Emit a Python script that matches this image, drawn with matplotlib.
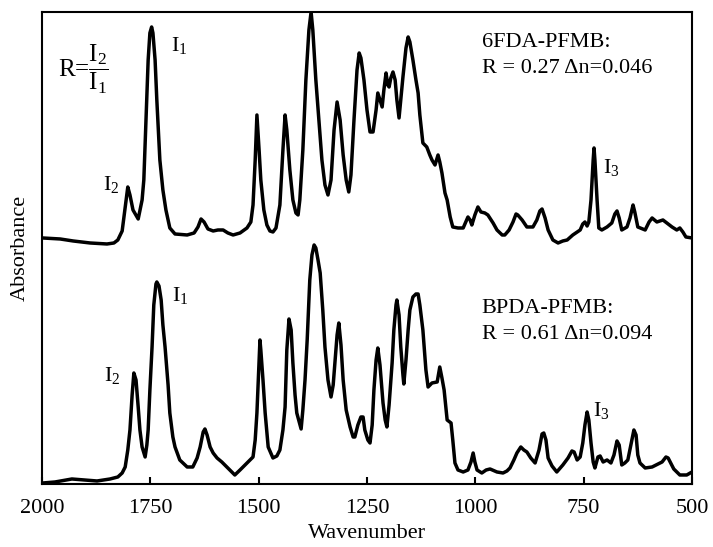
import numpy as np
import matplotlib
matplotlib.use("Agg")
import matplotlib.pyplot as plt

plt.rcParams['font.family'] = ['Liberation Serif', 'DejaVu Serif']
plt.rcParams['mathtext.fontset'] = 'custom'
plt.rcParams['mathtext.rm'] = 'Liberation Serif'
plt.rcParams['mathtext.it'] = 'Liberation Serif:italic'

# FTIR spectra, wavenumber (cm-1) vs absorbance (arb. units)
wn_6fda = [1998, 1958, 1928, 1889, 1850, 1834, 1825, 1815, 1808, 1802, 1797, 1790, 1778, 1769, 1765,
           1760, 1755, 1751, 1747, 1744, 1739, 1735, 1728, 1721, 1714, 1705, 1693, 1665, 1649, 1640,
           1633, 1626, 1617, 1605, 1594, 1582, 1571, 1559, 1543, 1527, 1518, 1513, 1508, 1504, 1499,
           1495, 1488, 1481, 1474, 1467, 1460, 1451, 1444, 1439, 1435, 1428, 1421, 1414, 1409, 1405,
           1398, 1391, 1384, 1379, 1375, 1368, 1361, 1354, 1347, 1340, 1333, 1326, 1319, 1312, 1305,
           1298, 1292, 1287, 1280, 1273, 1268, 1264, 1257, 1250, 1243, 1236, 1229, 1225, 1220, 1215,
           1211, 1206, 1202, 1199, 1195, 1190, 1185, 1181, 1176, 1172, 1167, 1160, 1155, 1151, 1144,
           1137, 1132, 1128, 1121, 1112, 1105, 1100, 1093, 1086, 1082, 1077, 1070, 1065, 1058, 1052,
           1040, 1028, 1022, 1017, 1012, 1008, 1001, 994, 987, 978, 971, 959, 950, 938, 932,
           922, 913, 906, 902, 892, 881, 867, 858, 851, 846, 839, 832, 821, 809, 798,
           788, 775, 758, 752, 747, 742, 738, 733, 728, 726, 724, 719, 715, 708, 696,
           685, 678, 673, 668, 662, 650, 643, 636, 632, 625, 608, 599, 592, 581, 567,
           555, 546, 535, 528, 521, 514, 500]
abs_6fda = [0.030, 0.025, 0.015, 0.005, 0.000, 0.005, 0.020, 0.065, 0.185, 0.285, 0.245, 0.170, 0.125, 0.220, 0.320,
            0.620, 0.920, 1.055, 1.085, 1.055, 0.920, 0.720, 0.420, 0.270, 0.170, 0.080, 0.050, 0.045, 0.055, 0.085,
            0.125, 0.110, 0.075, 0.065, 0.070, 0.070, 0.055, 0.045, 0.055, 0.080, 0.110, 0.195, 0.420, 0.645, 0.470,
            0.320, 0.170, 0.095, 0.065, 0.060, 0.080, 0.195, 0.470, 0.645, 0.570, 0.370, 0.220, 0.155, 0.145, 0.220,
            0.470, 0.820, 1.070, 1.160, 1.070, 0.820, 0.620, 0.420, 0.295, 0.245, 0.320, 0.570, 0.710, 0.620, 0.445,
            0.320, 0.260, 0.345, 0.620, 0.870, 0.955, 0.930, 0.820, 0.670, 0.560, 0.560, 0.670, 0.755, 0.720, 0.685,
            0.770, 0.855, 0.795, 0.785, 0.830, 0.860, 0.820, 0.720, 0.630, 0.720, 0.835, 0.980, 1.035, 1.010, 0.920,
            0.820, 0.755, 0.645, 0.505, 0.485, 0.445, 0.420, 0.395, 0.445, 0.410, 0.355, 0.255, 0.220, 0.135, 0.085,
            0.080, 0.080, 0.110, 0.135, 0.120, 0.095, 0.145, 0.185, 0.160, 0.155, 0.145, 0.105, 0.070, 0.045, 0.045,
            0.070, 0.110, 0.150, 0.145, 0.120, 0.085, 0.085, 0.120, 0.165, 0.175, 0.130, 0.070, 0.020, 0.005, 0.015,
            0.020, 0.045, 0.070, 0.100, 0.110, 0.090, 0.110, 0.220, 0.420, 0.480, 0.420, 0.220, 0.080, 0.070, 0.085,
            0.105, 0.150, 0.165, 0.130, 0.070, 0.085, 0.130, 0.195, 0.160, 0.085, 0.070, 0.110, 0.130, 0.110, 0.120,
            0.100, 0.085, 0.070, 0.080, 0.060, 0.035, 0.030]

wn_bpda = [1998, 1970, 1931, 1901, 1873, 1843, 1825, 1815, 1808, 1802, 1797, 1792, 1788, 1783, 1778,
           1774, 1769, 1762, 1758, 1755, 1751, 1746, 1742, 1737, 1735, 1730, 1725, 1721, 1716, 1709,
           1705, 1698, 1693, 1682, 1665, 1652, 1642, 1635, 1628, 1624, 1619, 1612, 1605, 1596, 1585,
           1571, 1555, 1543, 1527, 1513, 1508, 1504, 1499, 1497, 1495, 1490, 1485, 1478, 1467, 1458,
           1451, 1444, 1439, 1435, 1430, 1425, 1421, 1416, 1412, 1402, 1398, 1393, 1388, 1382, 1377,
           1372, 1368, 1363, 1358, 1352, 1347, 1340, 1333, 1328, 1324, 1319, 1315, 1310, 1305, 1298,
           1289, 1282, 1278, 1271, 1264, 1259, 1255, 1248, 1243, 1238, 1234, 1229, 1225, 1220, 1213,
           1208, 1204, 1199, 1192, 1188, 1183, 1181, 1176, 1172, 1167, 1165, 1160, 1155, 1151, 1144,
           1137, 1132, 1128, 1121, 1114, 1109, 1100, 1088, 1082, 1077, 1072, 1065, 1056, 1052, 1047,
           1040, 1028, 1017, 1010, 1005, 1001, 996, 985, 975, 966, 950, 936, 927, 920, 911,
           904, 895, 888, 881, 872, 862, 853, 846, 842, 837, 832, 823, 812, 798, 786,
           777, 772, 765, 758, 752, 747, 742, 738, 733, 728, 724, 717, 712, 705, 696,
           687, 680, 673, 668, 662, 655, 648, 641, 634, 629, 625, 620, 608, 592, 578,
           569, 560, 555, 548, 542, 528, 512, 500]
abs_bpda = [0.005, 0.010, 0.025, 0.020, 0.015, 0.025, 0.035, 0.055, 0.085, 0.170, 0.270, 0.445, 0.555, 0.520, 0.385,
            0.270, 0.185, 0.135, 0.195, 0.270, 0.470, 0.685, 0.895, 1.000, 1.010, 0.990, 0.920, 0.795, 0.685, 0.495,
            0.355, 0.235, 0.185, 0.120, 0.085, 0.085, 0.130, 0.185, 0.260, 0.275, 0.245, 0.185, 0.155, 0.130, 0.110,
            0.080, 0.045, 0.070, 0.105, 0.135, 0.220, 0.355, 0.620, 0.720, 0.670, 0.520, 0.355, 0.185, 0.130, 0.140,
            0.170, 0.270, 0.385, 0.670, 0.825, 0.770, 0.605, 0.445, 0.355, 0.275, 0.370, 0.520, 0.720, 1.020, 1.145,
            1.195, 1.180, 1.120, 1.055, 0.870, 0.685, 0.520, 0.435, 0.495, 0.605, 0.745, 0.805, 0.695, 0.520, 0.370,
            0.285, 0.235, 0.235, 0.295, 0.335, 0.335, 0.270, 0.220, 0.205, 0.295, 0.470, 0.620, 0.680, 0.595, 0.405,
            0.320, 0.285, 0.395, 0.605, 0.770, 0.895, 0.920, 0.845, 0.685, 0.545, 0.500, 0.620, 0.770, 0.870, 0.935,
            0.950, 0.950, 0.895, 0.770, 0.570, 0.485, 0.505, 0.510, 0.585, 0.530, 0.470, 0.320, 0.305, 0.220, 0.105,
            0.070, 0.060, 0.070, 0.110, 0.155, 0.110, 0.070, 0.055, 0.070, 0.075, 0.060, 0.055, 0.065, 0.080, 0.120,
            0.155, 0.185, 0.170, 0.160, 0.130, 0.105, 0.170, 0.250, 0.255, 0.220, 0.130, 0.090, 0.060, 0.095, 0.130,
            0.165, 0.160, 0.120, 0.135, 0.205, 0.295, 0.360, 0.320, 0.205, 0.110, 0.080, 0.135, 0.140, 0.110, 0.120,
            0.105, 0.145, 0.215, 0.195, 0.095, 0.105, 0.120, 0.195, 0.270, 0.245, 0.145, 0.105, 0.080, 0.085, 0.100,
            0.110, 0.135, 0.130, 0.100, 0.075, 0.045, 0.045, 0.060]

offset_6fda = 1.20  # vertical shift of the 6FDA trace
xticks = [2000, 1750, 1500, 1250, 1000, 750, 500]

fig = plt.figure(figsize=(7.13, 5.47), dpi=100)
ax = fig.add_axes([0.0589, 0.1152, 0.9116, 0.8629])

ax.plot(wn_6fda, np.array(abs_6fda) + offset_6fda, color='black', lw=2.5,
        solid_joinstyle='round', solid_capstyle='round')
ax.plot(wn_bpda, abs_bpda, color='black', lw=2.5,
        solid_joinstyle='round', solid_capstyle='round')

ax.set_xlim(2000, 500)
ax.set_ylim(0, 2.36)
ax.set_xticks(xticks)
ax.set_yticks([])
ax.tick_params(axis='x', direction='in', length=5, width=1.5, labelsize=16, pad=11)
for s in ax.spines.values():
    s.set_linewidth(1.5)

ax.set_xlabel('Wavenumber', fontsize=16, labelpad=4)
ax.set_ylabel('Absorbance', fontsize=16, labelpad=9)

# peak labels
fs = 16
ax.text(1963, 2.07, r'R=$\dfrac{\mathrm{I}_2}{\mathrm{I}_1}$', fontsize=18, ha='left', va='center')
ax.text(1683, 2.19, r'I$_1$', fontsize=fs, ha='center', va='center')
ax.text(1841, 1.495, r'I$_2$', fontsize=fs, ha='center', va='center')
ax.text(685, 1.58, r'I$_3$', fontsize=fs, ha='center', va='center')
ax.text(1682, 0.94, r'I$_1$', fontsize=fs, ha='center', va='center')
ax.text(1838, 0.54, r'I$_2$', fontsize=fs, ha='center', va='center')
ax.text(708, 0.365, r'I$_3$', fontsize=fs, ha='center', va='center')

ax.text(985, 2.185, '6FDA-PFMB:', fontsize=fs, ha='left', va='baseline')
ax.text(985, 2.055, 'R = 0.27 \u0394n=0.046', fontsize=fs, ha='left', va='baseline')
ax.text(985, 0.855, 'BPDA-PFMB:', fontsize=fs, ha='left', va='baseline')
ax.text(985, 0.725, 'R = 0.61 \u0394n=0.094', fontsize=fs, ha='left', va='baseline')

fig.savefig('out.png', dpi=100)
